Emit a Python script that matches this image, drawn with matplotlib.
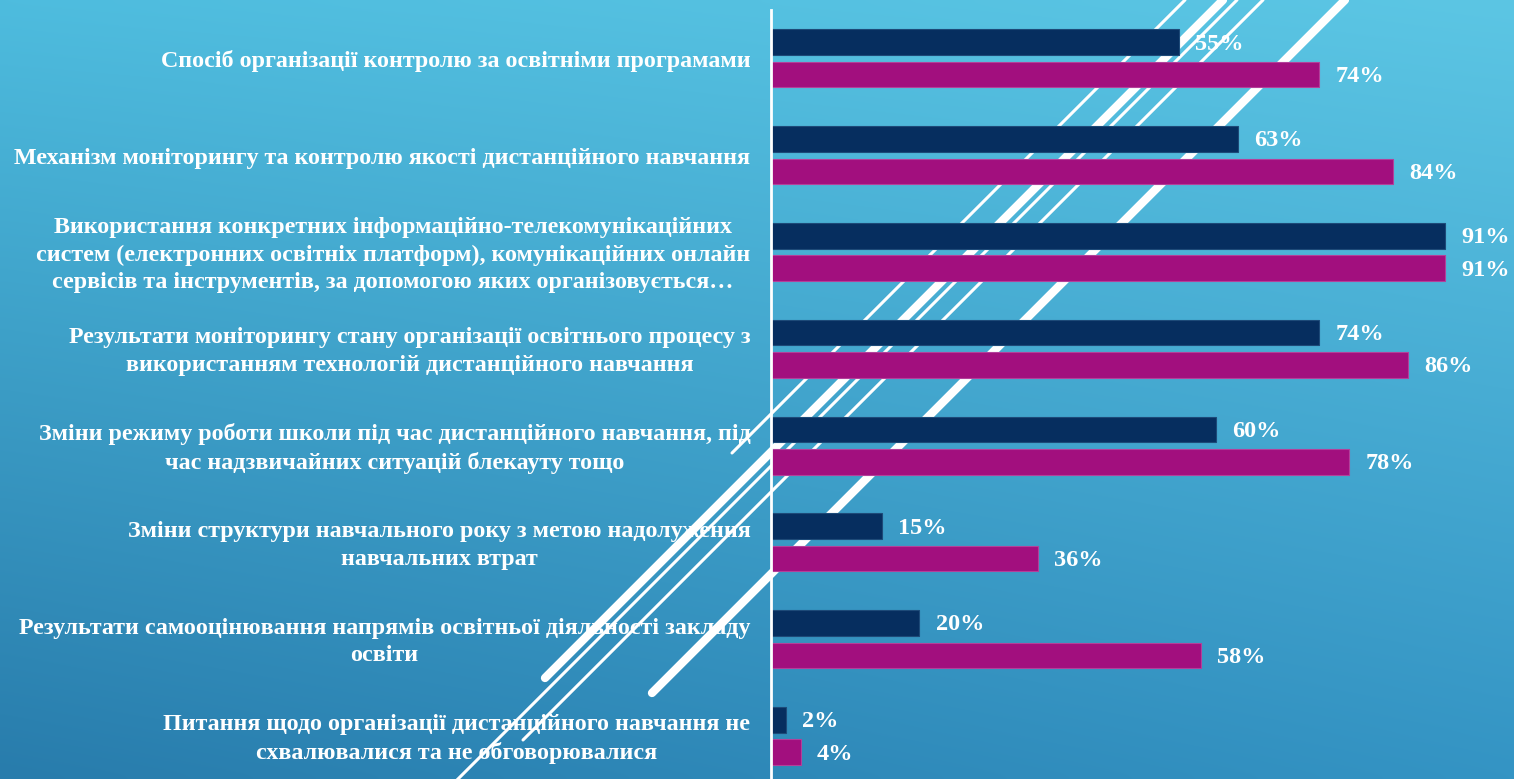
import matplotlib.pyplot as plt
import numpy as np

# chart data
labels = [
    'Спосіб організації контролю за освітніми програмами',
    'Механізм моніторингу та контролю якості дистанційного навчання',
    'Використання конкретних інформаційно-телекомунікаційних\n'
    'систем (електронних освітніх платформ), комунікаційних онлайн\n'
    'сервісів та інструментів, за допомогою яких організовується…',
    'Результати моніторингу стану організації освітнього процесу з\n'
    'використанням технологій дистанційного навчання',
    'Зміни режиму роботи школи під час дистанційного навчання, під\n'
    'час надзвичайних ситуацій блекауту тощо',
    'Зміни структури навчального року з метою надолуження\n'
    'навчальних втрат',
    'Результати самооцінювання напрямів освітньої діяльності закладу\n'
    'освіти',
    'Питання щодо організації дистанційного навчання не\n'
    'схвалювалися та не обговорювалися',
]
navy_vals = [55, 63, 91, 74, 60, 15, 20, 2]
magenta_vals = [74, 84, 91, 86, 78, 36, 58, 4]

NAVY = '#062e5f'
MAGENTA = '#a20f7e'
FONT = 'Liberation Serif'

W, H = 1514, 779
fig = plt.figure(figsize=(W / 100, H / 100), dpi=100)

# background gradient + decorative diagonal strokes (pixel space)
bg = fig.add_axes([0, 0, 1, 1], zorder=0)
tl = np.array([78, 188, 222]) / 255
tr = np.array([92, 198, 228]) / 255
bl = np.array([40, 124, 172]) / 255
br = np.array([52, 148, 196]) / 255
u = np.linspace(0, 1, 200)[None, :, None]
v = np.linspace(0, 1, 100)[:, None, None]
grad = (1 - v) * ((1 - u) * tl + u * tr) + v * ((1 - u) * bl + u * br)
bg.imshow(grad, extent=[0, W, H, 0], aspect='auto', interpolation='bicubic')
bg.set_xlim(0, W)
bg.set_ylim(H, 0)
bg.axis('off')

# strokes at 45 degrees: (x + y) constant, lower end x, width
strokes = [(1185, 732, 2.2), (1223, 545, 6.0), (1237, 440, 2.2),
           (1263, 523, 2.2), (1345, 652, 6.0)]
for c, x0, lw in strokes:
    bg.plot([x0, c], [c - x0, 0], color='white', lw=lw, solid_capstyle='round')

# bars
ax = fig.add_axes([771 / W, 0, 741 / W, (H - 10) / H], zorder=1)
ax.set_facecolor('none')
y = np.arange(len(labels))
off, bh = 0.167, 0.265
ax.barh(y - off, navy_vals, height=bh, color=NAVY, edgecolor='#1d4a78', lw=0.8)
ax.barh(y + off, magenta_vals, height=bh, color=MAGENTA, edgecolor='#b3409a', lw=0.8)
ax.set_xlim(0, 100)
ax.set_ylim(7.444, -0.5)

for i in range(len(labels)):
    ax.text(navy_vals[i] + 2.2, y[i] - off + 0.02, f'{navy_vals[i]}%', color='white',
            fontsize=17.5, fontweight='bold', family=FONT, va='center', ha='left')
    ax.text(magenta_vals[i] + 2.2, y[i] + off + 0.02, f'{magenta_vals[i]}%', color='white',
            fontsize=17.5, fontweight='bold', family=FONT, va='center', ha='left')
    ax.text(-2.8, y[i] + 0.03, labels[i], color='white', fontsize=17.3, fontweight='bold',
            family=FONT, ha='right', va='center', multialignment='center',
            linespacing=1.42, clip_on=False)

for s in ['top', 'right', 'bottom']:
    ax.spines[s].set_visible(False)
ax.spines['left'].set_color('white')
ax.spines['left'].set_linewidth(2)
ax.set_xticks([])
ax.set_yticks([])

fig.savefig('out.png', dpi=100)
